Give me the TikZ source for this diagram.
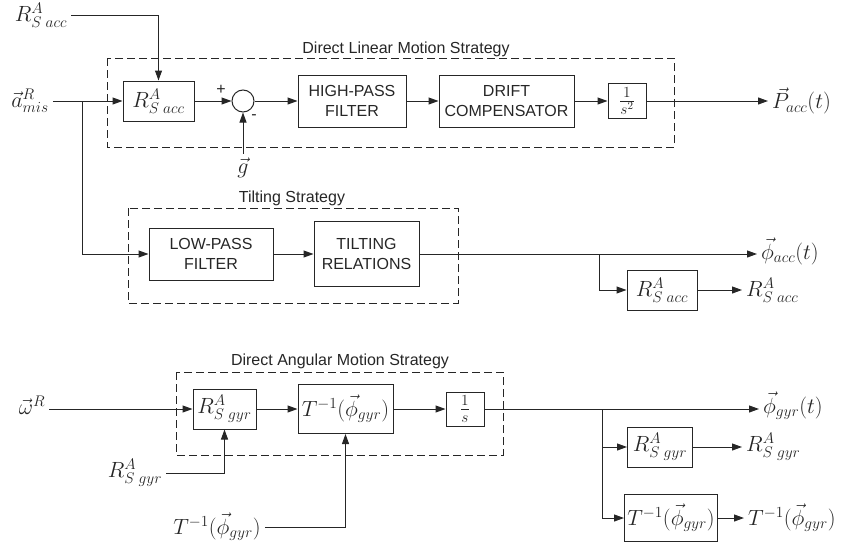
\RequirePackage{fix-cm}
\documentclass[tikz,border=0pt]{standalone}
\usepackage{amsmath}
\usepackage{fontspec}
\usetikzlibrary{arrows.meta}
\newfontfamily\arial{Liberation Sans}
\tikzset{
  blk/.style={draw, line width=1pt, inner sep=1pt, align=center, font=\arial\fontsize{16}{20}\selectfont},
  mblk/.style={blk, font=\fontsize{22}{26}\selectfont},
  lbl/.style={font=\fontsize{22}{26}\selectfont, inner sep=4pt},
  ttl/.style={font=\arial\fontsize{16}{20}\selectfont, inner sep=0pt},
  frame/.style={line width=1pt, dash pattern=on 8pt off 4pt},
  sig/.style={line width=1pt, -{Triangle[length=10pt,width=7pt]}},
}
\begin{document}
\begin{tikzpicture}[x=1pt,y=-1pt,color=black!85]
\useasboundingbox (0,0) rectangle (847,549);
% direct linear motion
\draw[frame] (107,58) rectangle (674,147);
\node (t1) at (406,49) [ttl] {Direct Linear Motion Strategy};
\node (rin) at (41,15) [lbl] {$R^A_{S\;acc}$};
\node (ain) at (30,101) [lbl] {$\vec{a}^R_{mis}$};
\node (rs) at (158.5,101) [mblk, minimum width=71pt, minimum height=40pt] {$R^A_{S\;acc}$};
\node (sum) at (243,101) [draw, circle, line width=1pt, minimum size=22pt, inner sep=0pt] {};
\node (pl) at (221,90) [ttl] {+};
\node (mi) at (254,117) [ttl] {-};
\node (g) at (243,168) [lbl] {$\vec{g}$};
\node (hp) at (352,101) [blk, minimum width=108pt, minimum height=52pt] {HIGH-PASS\\FILTER};
\node (dc) at (506.5,101) [blk, minimum width=135pt, minimum height=52pt] {DRIFT\\COMPENSATOR};
\node (i2) at (627,101) [mblk, minimum width=38pt, minimum height=35pt] {$\frac{1}{s^2}$};
\node (pout) at (768,101) [lbl, anchor=west] {$\vec{P}_{acc}(t)$};
\coordinate (b1) at (82,101);
\draw[sig] (rin.east) -| (rs.north);
\draw[sig] (ain.east |- rs.west) -- (rs.west);
\draw[sig] (rs) -- (sum);
\draw[sig] (g) -- (sum);
\draw[sig] (sum) -- (hp);
\draw[sig] (hp) -- (dc);
\draw[sig] (dc) -- (i2);
\draw[sig] (i2.east) -- (i2.east -| pout.west);
% tilting
\draw[frame] (128,208) rectangle (458,303);
\node (t2) at (292,198) [ttl] {Tilting Strategy};
\node (lp) at (211,254) [blk, minimum width=124pt, minimum height=52pt] {LOW-PASS\\FILTER};
\node (tr) at (366.5,254) [blk, minimum width=105pt, minimum height=65pt] {TILTING\\RELATIONS};
\node (phia) at (757,251) [lbl, anchor=west] {$\vec{\phi}_{acc}(t)$};
\coordinate (b2) at (599,254);
\node (ra) at (662,290) [mblk, minimum width=70pt, minimum height=40pt] {$R^A_{S\;acc}$};
\node (raout) at (742,290) [lbl, anchor=west] {$R^A_{S\;acc}$};
\draw[sig] (b1) |- (lp);
\draw[sig] (lp) -- (tr);
\draw[sig] (tr.east) -- (tr.east -| phia.west);
\draw[sig] (b2) |- (ra);
\draw[sig] (ra) -- (raout);
% direct angular motion
\draw[frame] (176,372) rectangle (503,455);
\node (t3) at (340,361) [ttl] {Direct Angular Motion Strategy};
\node (win) at (32,405) [lbl] {$\vec{\omega}^R$};
\node (rg) at (224.5,409) [mblk, minimum width=63pt, minimum height=40pt] {$R^A_{S\;gyr}$};
\node (ti) at (345.5,409) [mblk, minimum width=95pt, minimum height=49pt] {$T^{-1}(\vec{\phi}_{gyr})$};
\node (ii) at (465,409) [mblk, minimum width=38pt, minimum height=34pt] {$\frac{1}{s}$};
\node (phig) at (759,406) [lbl, anchor=west] {$\vec{\phi}_{gyr}(t)$};
\coordinate (b3) at (602,409);
\node (rg2) at (660,447) [mblk, minimum width=65pt, minimum height=40pt] {$R^A_{S\;gyr}$};
\node (rgout) at (742,447) [lbl, anchor=west] {$R^A_{S\;gyr}$};
\node (ti2) at (671,518) [mblk, minimum width=93pt, minimum height=47pt, inner sep=0pt] {$T^{-1}(\vec{\phi}_{gyr})$};
\node (tiout) at (744,518) [lbl, anchor=west] {$T^{-1}(\vec{\phi}_{gyr})$};
\node (rgin) at (135,473) [lbl] {$R^A_{S\;gyr}$};
\node (tin) at (217,527) [lbl] {$T^{-1}(\vec{\phi}_{gyr})$};
\draw[sig] (win.east |- rg.west) -- (rg.west);
\draw[sig] (rgin.east) -| (rg.south);
\draw[sig] (tin.east) -| (ti.south);
\draw[sig] (rg) -- (ti);
\draw[sig] (ti) -- (ii);
\draw[sig] (ii.east) -- (ii.east -| phig.west);
\draw[sig] (b3) |- (rg2);
\draw[sig] (b3) |- (ti2);
\draw[sig] (rg2) -- (rgout);
\draw[sig] (ti2) -- (tiout);
\end{tikzpicture}
\end{document}
